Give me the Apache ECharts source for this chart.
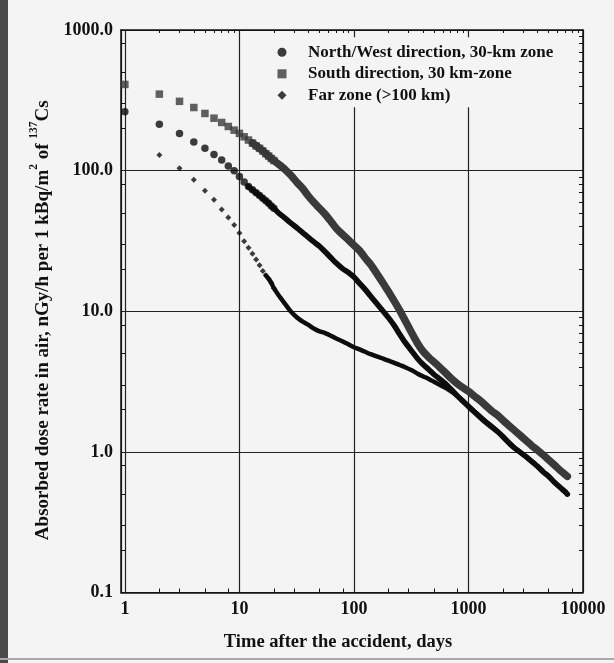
<!DOCTYPE html>
<html><head><meta charset="utf-8">
<script src="https://cdn.jsdelivr.net/npm/echarts@6/dist/echarts.min.js"></script>
<style>html,body{margin:0;padding:0;background:#f4f4f4;} #c{width:614px;height:663px;}</style>
</head><body><div id="c"></div>
<script>
// ---- data ----
const earlyDays = [1,2,3,4,5,6,7,8,9,10,11,12,13,14,15,16,17,18,19,20];
const southEarly = [410,350,311,281,255,236,220,206,194,184,174,165,157,150,144,138,132,127,122,118];
const nwEarly    = [262,214,184,160,144,130,119,108,100,91,83,77,73,69.5,66.5,63.5,61,58.5,56,54];
const farEarly   = [null,129,104,86,72,62,53,46.5,41,36,31.5,28.3,25.6,23.3,21.2,19.3,18,17,15.9,14.6];

const tailDays = [22,25,28,32,36,40,45,50,56,63,70,80,90,100,112,125,140,160,180,200,225,250,280,320,360,400,450,500,560,630,700,800,900,1000,1120,1250,1400,1600,1800,2000,2250,2500,2800,3200,3600,4000,4500,5000,5600,6300,7000,7300];
const southTail = [111,102,93,82,74,66,59,54,49,43.5,39,35,32,29.5,27,24,21.5,18.3,15.8,13.8,11.8,10.2,8.6,7.0,5.9,5.2,4.7,4.35,4.0,3.65,3.35,3.05,2.85,2.7,2.5,2.33,2.15,1.95,1.82,1.68,1.54,1.43,1.32,1.2,1.1,1.03,0.95,0.88,0.81,0.74,0.69,0.67];
const nwTail = [50,46,42.5,39,36,33.5,31,29,26.5,24,22,20,18.8,17.5,15.8,14.3,12.8,11.2,10.0,9.0,7.9,6.9,6.0,5.2,4.6,4.2,3.85,3.55,3.3,3.05,2.8,2.5,2.28,2.1,1.93,1.78,1.64,1.5,1.39,1.28,1.16,1.07,1.0,0.92,0.85,0.79,0.72,0.67,0.61,0.56,0.52,0.5];
const farTail = [13.0,11.3,10.0,9.0,8.4,8.0,7.5,7.2,7.0,6.7,6.4,6.1,5.8,5.55,5.35,5.15,4.95,4.75,4.6,4.45,4.3,4.15,4.0,3.8,3.6,3.45,3.3,3.15,3.0,2.85,2.7,2.5,2.3,2.12,1.95,1.8,1.66,1.52,1.4,1.29,1.17,1.08,1.0,0.92,0.85,0.79,0.72,0.67,0.61,0.56,0.52,0.5];

const xTickLabels = [1,10,100,1000,10000];
const yTickLabels = ['0.1','1.0','10.0','100.0','1000.0'];

const seriesNames = ['North/West direction, 30-km zone','South direction, 30 km-zone','Far zone (>100 km)'];

// ---- build ----
const pairs = (xs, ys) => xs.map((x,i)=>[x, ys[i]]).filter(p=>p[1]!=null);
const southPts = pairs(earlyDays, southEarly);
const nwPts = pairs(earlyDays, nwEarly);
const farPts = pairs(earlyDays, farEarly);
const southBand = pairs(earlyDays.slice(12), southEarly.slice(12)).concat(pairs(tailDays, southTail));
const nwBand = pairs(earlyDays.slice(11), nwEarly.slice(11)).concat(pairs(tailDays, nwTail));
const farBand = pairs(earlyDays.slice(16), farEarly.slice(16)).concat(pairs(tailDays, farTail));

const decadesX = [1,10,100,1000];
const decadesY = [0.1,1,10,100];
const minorSparse = [2,3,5,8];
const minorFull = [2,3,4,5,6,7,8,9];
const mk = (dec, mult) => { const r=[]; dec.forEach(d=>mult.forEach(m=>r.push(+(d*m).toPrecision(3)))); return r; };

const FONT = 'Liberation Serif';
const xMin = 0.925, xMax = 10000, yMin = 0.1, yMax = 1000;
const SQ = '#3a3a3a', BK = '#0d0d0d', BG = '#f4f4f4';

const chart = echarts.init(document.getElementById('c'), null, {renderer:'canvas'});
chart.setOption({
  animation: false,
  backgroundColor: BG,
  grid: {left: 121, top: 30, right: 31, bottom: 70.5, containLabel: false, outerBoundsMode: 'none'},
  graphic: [
    {type:'rect', left:0, top:0, shape:{x:0,y:0,width:8,height:663}, style:{fill:'#4a4a4a'}},
    {type:'rect', shape:{x:0,y:658,width:614,height:2}, style:{fill:'#a8a8a8'}}
  ],
  legend: {
    orient: 'vertical', left: 272.5, top: 37.3, itemWidth: 9, itemHeight: 9, itemGap: 1.5,
    padding: [5, 12, 2, 5], backgroundColor: BG,
    data: [
      {name: seriesNames[0], icon: 'circle'},
      {name: seriesNames[1], icon: 'rect'},
      {name: seriesNames[2], icon: 'diamond'}
    ],
    textStyle: {fontFamily: FONT, fontWeight: 'bold', fontSize: 17, color: '#111', lineHeight: 20, padding: [0,0,0,16.5]}
  },
  xAxis: [
    {type:'log', min:xMin, max:xMax, position:'bottom',
     axisLine:{show:true, lineStyle:{color:'#111', width:1.5}},
     axisTick:{show:false},
     splitLine:{show:true, lineStyle:{color:'#222', width:1.2}},
     axisLabel:{customValues: xTickLabels, formatter: v => String(Math.round(v)), margin: 8,
       fontFamily: FONT, fontWeight:'bold', fontSize: 18, color:'#111'},
     name: 'Time after the accident, days', nameLocation:'middle', nameGap: 40,
     nameTextStyle:{fontFamily: FONT, fontWeight:'bold', fontSize: 18.5, color:'#111', padding:[0,28,0,0]}
    },
    {type:'log', min:xMin, max:xMax, position:'bottom',
     axisLine:{show:false}, axisLabel:{show:false}, splitLine:{show:false},
     axisTick:{show:true, inside:true, length:4, customValues: mk(decadesX, minorSparse), lineStyle:{color:'#111'}}},
    {type:'log', min:xMin, max:xMax, position:'top',
     axisLine:{show:true, lineStyle:{color:'#111', width:1.5}}, axisLabel:{show:false}, splitLine:{show:false},
     axisTick:{show:true, inside:true, length:3, customValues: mk(decadesX, minorFull), lineStyle:{color:'#111'}}}
  ],
  yAxis: [
    {type:'log', min:yMin, max:yMax, position:'left',
     axisLine:{show:true, lineStyle:{color:'#111', width:1.5}},
     axisTick:{show:false},
     splitLine:{show:true, lineStyle:{color:'#222', width:1.2}},
     axisLabel:{formatter: v => yTickLabels[Math.round(Math.log10(v))+1], margin: 8,
       fontFamily: FONT, fontWeight:'bold', fontSize: 18, color:'#111'},
     name: '{a|Absorbed dose rate in air, nGy/h per 1 kBq/m}{s|2}{a| of }{s|137}{a|Cs}',
     nameLocation:'middle', nameRotate: 90, nameGap: 68,
     nameTextStyle:{color:'#111', padding:[0,18,0,0], rich:{
       a:{fontFamily: FONT, fontWeight:'bold', fontSize: 19, color:'#111', lineHeight: 25, verticalAlign:'bottom'},
       s:{fontFamily: FONT, fontWeight:'bold', fontSize: 11.5, color:'#111', lineHeight: 12, verticalAlign:'top'}
     }}
    },
    {type:'log', min:yMin, max:yMax, position:'left',
     axisLine:{show:false}, axisLabel:{show:false}, splitLine:{show:false},
     axisTick:{show:true, inside:true, length:4, customValues: mk(decadesY, minorSparse), lineStyle:{color:'#111'}}},
    {type:'log', min:yMin, max:yMax, position:'right',
     axisLine:{show:true, lineStyle:{color:'#111', width:1.5}}, axisLabel:{show:false}, splitLine:{show:false},
     axisTick:{show:true, inside:true, length:4, customValues: mk(decadesY, minorFull), lineStyle:{color:'#111'}}}
  ],
  series: [
    {name:'southBand', type:'line', data: southBand, showSymbol:false, smooth:0.2, silent:true,
     lineStyle:{color:SQ, width:7.5, cap:'round', join:'round'}, z:2},
    {name: seriesNames[1], type:'scatter', data: southPts, symbol:'rect', symbolSize:7.5,
     itemStyle:{color:SQ}, z:3},
    {name:'nwBand', type:'line', data: nwBand, showSymbol:false, smooth:0.2, silent:true,
     lineStyle:{color:BK, width:5.5, cap:'round', join:'round'}, z:4},
    {name: seriesNames[0], type:'scatter', data: nwPts, symbol:'circle', symbolSize:7.5,
     itemStyle:{color:BK}, z:5},
    {name:'farBand', type:'line', data: farBand, showSymbol:false, smooth:0.2, silent:true,
     lineStyle:{color:BK, width:4.5, cap:'round', join:'round'}, z:6},
    {name: seriesNames[2], type:'scatter', data: farPts, symbol:'diamond', symbolSize:6,
     itemStyle:{color:BK}, z:7}
  ]
});
</script></body></html>
